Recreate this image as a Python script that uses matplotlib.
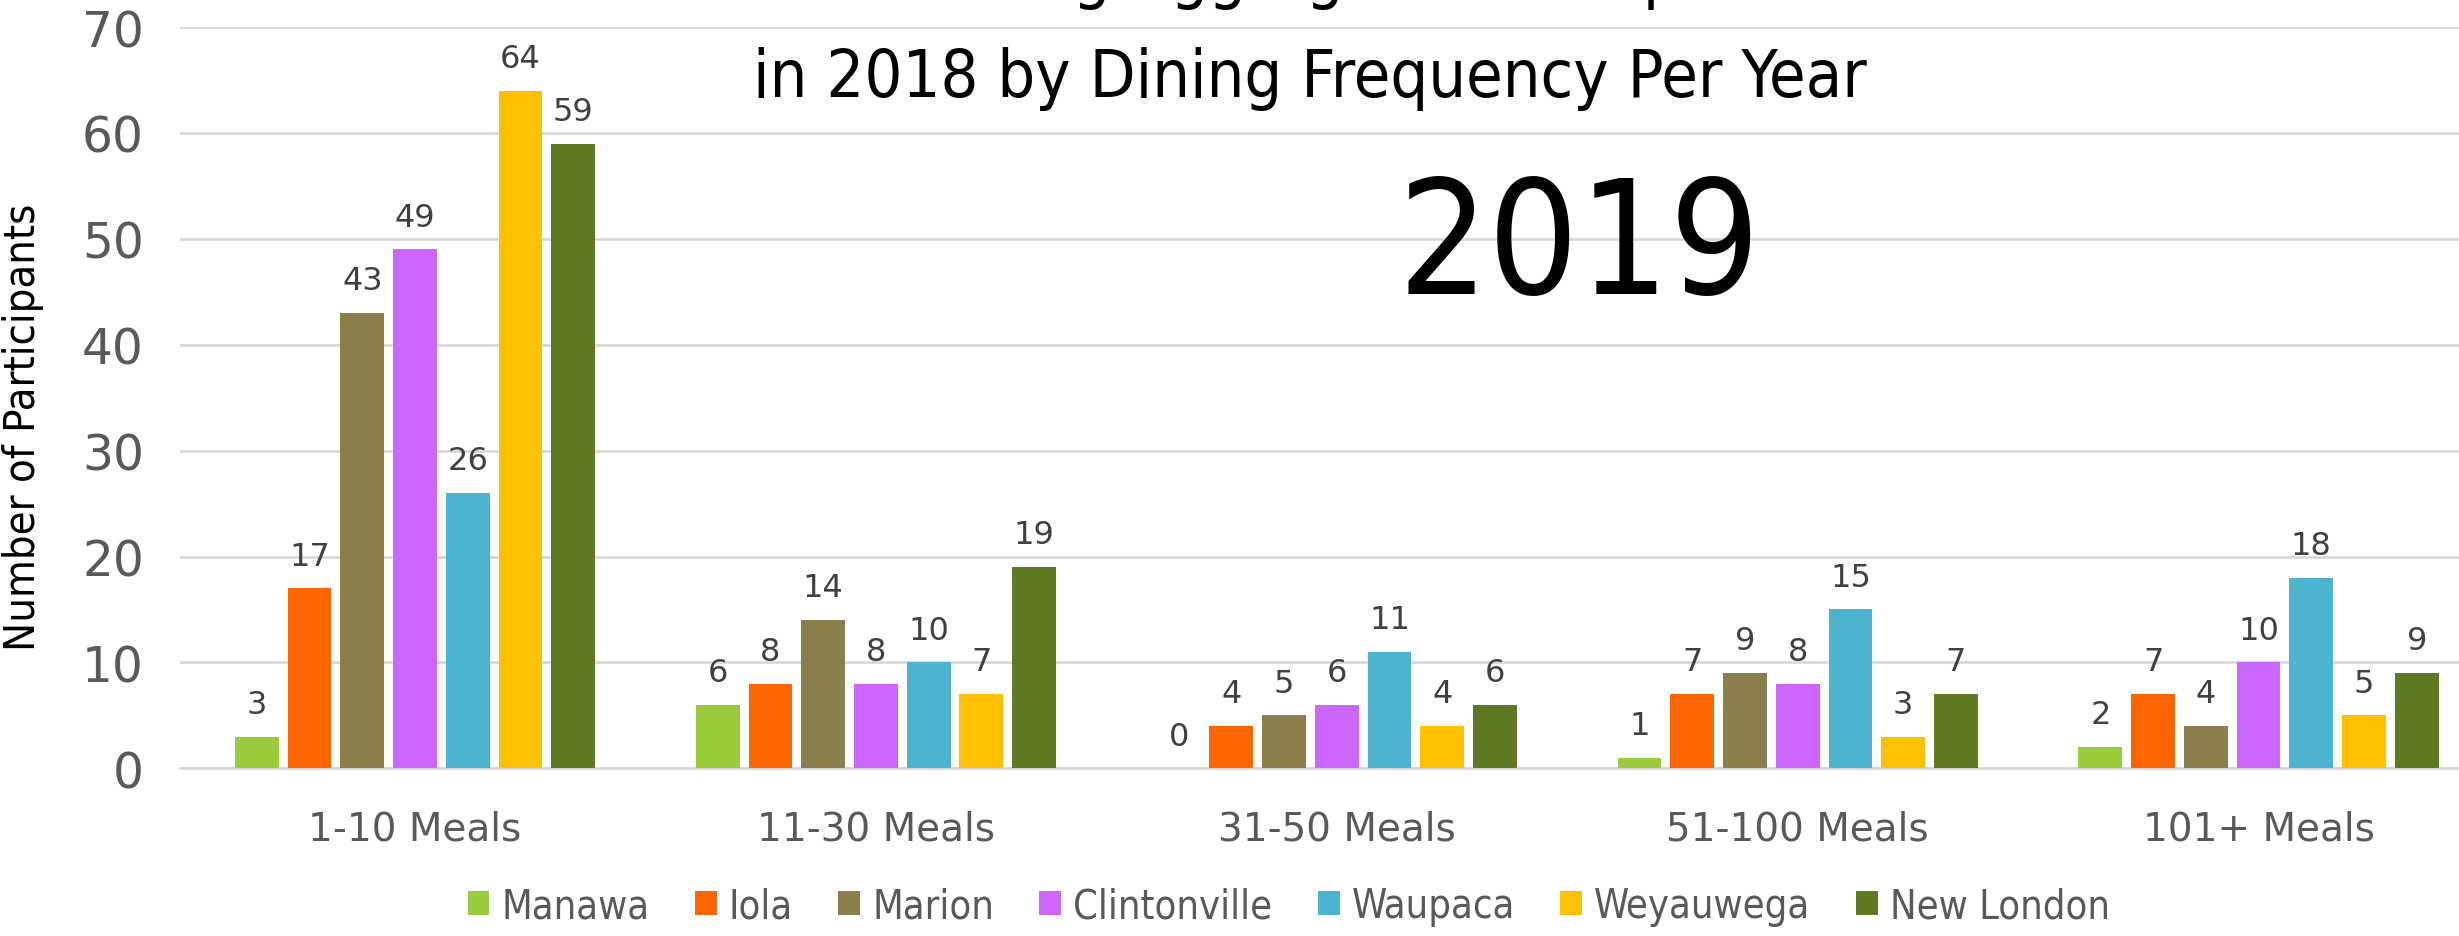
import matplotlib
matplotlib.use("Agg")
import matplotlib.pyplot as plt
from matplotlib import font_manager
import numpy as np

categories = ["1-10 Meals", "11-30 Meals", "31-50 Meals", "51-100 Meals", "101+ Meals"]
towns = ["Manawa", "Iola", "Marion", "Clintonville", "Waupaca", "Weyauwega", "New London"]
manawa = [3, 6, 0, 1, 2]
iola = [17, 8, 4, 7, 7]
marion = [43, 14, 5, 9, 4]
clintonville = [49, 8, 6, 8, 10]
waupaca = [26, 10, 11, 15, 18]
weyauwega = [64, 7, 4, 3, 5]
new_london = [59, 19, 6, 7, 9]
series = [manawa, iola, marion, clintonville, waupaca, weyauwega, new_london]
colors = ["#9ACB3C", "#FF6600", "#8A7F4C", "#CC66FF", "#4EB3CF", "#FFC000", "#5E7A21"]

# pick a narrow font if one is around, else condensed DejaVu
installed = {f.name for f in font_manager.fontManager.ttflist}
stretch_list = {f.stretch for f in font_manager.fontManager.ttflist if f.name == "DejaVu Sans"}
if "Liberation Sans Narrow" in installed:
    narrow = dict(family="Liberation Sans Narrow")
    k = 1.0
elif "condensed" in stretch_list or "semi-condensed" in stretch_list:
    narrow = dict(family="DejaVu Sans", stretch="condensed")
    k = 0.92
else:
    narrow = dict(family="DejaVu Sans")
    k = 0.82

fig = plt.figure(figsize=(24.59, 9.37), dpi=100)
ax = fig.add_axes([0.0732, 0.179, 0.927, 0.791])

x = np.arange(len(categories))
slot = 0.1144
width = 0.095
for i, (vals, col, name) in enumerate(zip(series, colors, towns)):
    pos = x + (i - 3) * slot
    bars = ax.bar(pos, vals, width, color=col, label=name, zorder=3)
    for b, v in zip(bars, vals):
        ax.annotate(str(v), (b.get_x() + b.get_width() / 2, v),
                    xytext=(0, 12), textcoords="offset points",
                    ha="center", va="bottom", fontsize=23, color="#404040")

ax.set_ylim(0, 70)
ax.set_xlim(-0.51, 4.436)
ax.set_yticks(np.arange(0, 71, 10))
ax.yaxis.grid(True, color="#D9D9D9", linewidth=2, zorder=0)
ax.set_axisbelow(True)
for s in ["top", "right", "left"]:
    ax.spines[s].set_visible(False)
ax.spines["bottom"].set_color("#D9D9D9")
ax.spines["bottom"].set_linewidth(2)
ax.tick_params(axis="both", length=0, colors="#595959")
ax.tick_params(axis="y", labelsize=35, pad=26)
ax.tick_params(axis="x", labelsize=28, pad=30)
ax.set_xticks(x)
ax.set_xticklabels(categories)
ax.set_ylabel("Number of Participants", fontsize=30 * k * 1.13, color="black", **narrow)
ax.yaxis.set_label_coords(-0.0597, 0.461)

fig.text(0.5327, 1.004, "Number of Dining Aggregate Participants Served", ha="center",
         va="baseline", fontsize=52 * k, **narrow)
fig.text(0.5327, 0.8965, "in 2018 by Dining Frequency Per Year", ha="center",
         va="baseline", fontsize=52 * k, **narrow)
fig.text(0.642, 0.733, "2019", ha="center", va="center", fontsize=124 * k, **narrow)

leg = fig.legend(loc="center", bbox_to_anchor=(0.524, 0.032), ncol=7, frameon=False,
                 handlelength=0.55, handleheight=0.55, handletextpad=0.3,
                 columnspacing=1.15,
                 prop=font_manager.FontProperties(size=31 * k, **narrow))
for t in leg.get_texts():
    t.set_color("#595959")

fig.savefig("out.png", dpi=100)
